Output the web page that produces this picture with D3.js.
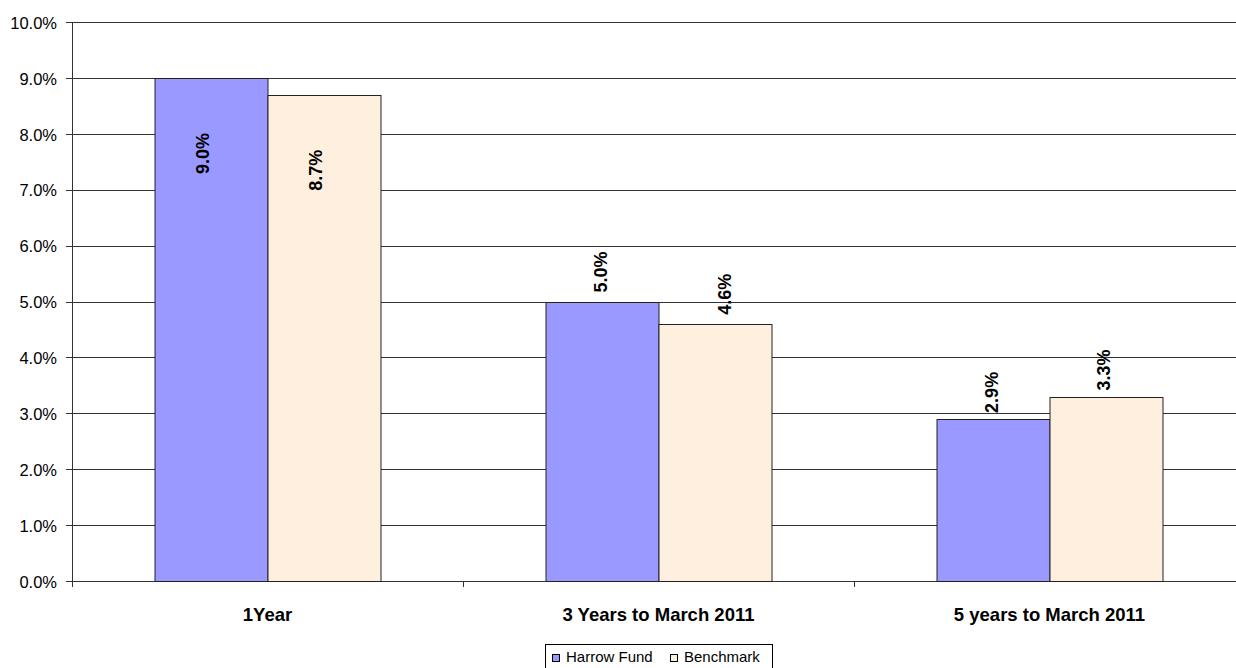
<!DOCTYPE html>
<html>
<head>
<meta charset="UTF-8">
<style>
  body { margin: 0; padding: 0; background: #fff; overflow: hidden; }
  svg { display: block; font-family: Arial, "Liberation Sans", sans-serif; }
</style>
</head>
<body>
<svg id="chart" width="1236" height="668"></svg>
<script src="https://d3js.org/d3.v7.min.js"></script>
<script>
// data
const categories = ["1Year", "3 Years to March 2011", "5 years to March 2011"];
const seriesNames = ["Harrow Fund", "Benchmark"];
const harrow = [9.0, 5.0, 2.9];
const benchmark = [8.7, 4.6, 3.3];
const yTicks = [0, 1, 2, 3, 4, 5, 6, 7, 8, 9, 10];

const colors = { "Harrow Fund": "#9999FF", "Benchmark": "#FFEFDF" };

const svg = d3.select("#chart");
const plotLeft = 72, plotTop = 22, plotBottom = 581;

const x = d3.scaleBand().domain(categories).range([plotLeft, plotLeft + 3 * 391]);
const x1 = d3.scaleBand().domain(seriesNames).range([0, 226]);
const y = d3.scaleLinear().domain([0, 10]).range([plotBottom, plotTop]);

// gridlines
svg.append("g").selectAll("line")
  .data(yTicks)
  .enter().append("line")
  .attr("x1", plotLeft - 6).attr("x2", 1236)
  .attr("y1", d => Math.round(y(d)) + 0.5).attr("y2", d => Math.round(y(d)) + 0.5)
  .attr("stroke", "#333").attr("stroke-width", 1);

// y tick labels
svg.append("g").selectAll("text")
  .data(yTicks)
  .enter().append("text")
  .attr("x", 57).attr("y", d => y(d) + 1)
  .attr("dy", "0.35em")
  .attr("text-anchor", "end")
  .attr("font-size", 16.5)
  .text(d => d.toFixed(1) + "%");

// bars
const rows = categories.map((c, i) => ({ cat: c, vals: [harrow[i], benchmark[i]] }));
const groups = svg.append("g").selectAll("g")
  .data(rows)
  .enter().append("g")
  .attr("transform", d => `translate(${x(d.cat) + (x.bandwidth() - 226) / 2},0)`);

groups.selectAll("rect")
  .data(d => d.vals.map((v, j) => ({ name: seriesNames[j], v })))
  .enter().append("rect")
  .attr("x", d => x1(d.name) + 0.5)
  .attr("y", d => Math.round(y(d.v)) + 0.5)
  .attr("width", x1.bandwidth())
  .attr("height", d => plotBottom - Math.round(y(d.v)))
  .attr("fill", d => colors[d.name])
  .attr("stroke", "#222").attr("stroke-width", 1);

// value labels (the tallest ones sit inside the bar); small sideways nudges as placed in the original
const labelNudge = [[-8, -8], [-1, 10], [-1, -2]];
groups.selectAll("text")
  .data((d, i) => d.vals.map((v, j) => ({ name: seriesNames[j], v, dx: labelNudge[i][j] })))
  .enter().append("text")
  .attr("transform", d => {
    const cx = x1(d.name) + x1.bandwidth() / 2 + d.dx;
    const by = d.v > 8 ? y(d.v) + 96 : y(d.v) - (d.v > 4 ? 9 : 6);
    return `translate(${cx},${by}) rotate(-90)`;
  })
  .attr("dy", "0.35em")
  .attr("font-size", 18)
  .attr("font-weight", "bold")
  .text(d => d.v.toFixed(1) + "%");

// axes lines
svg.append("line")
  .attr("x1", plotLeft + 0.5).attr("x2", plotLeft + 0.5)
  .attr("y1", plotTop).attr("y2", plotBottom + 6)
  .attr("stroke", "#333");
svg.append("g").selectAll("line")
  .data(categories.slice(1))
  .enter().append("line")
  .attr("x1", d => x(d) + 0.5).attr("x2", d => x(d) + 0.5)
  .attr("y1", plotBottom).attr("y2", plotBottom + 6)
  .attr("stroke", "#333");

// category labels
svg.append("g").selectAll("text")
  .data(categories)
  .enter().append("text")
  .attr("x", d => x(d) + x.bandwidth() / 2)
  .attr("y", 621)
  .attr("text-anchor", "middle")
  .attr("font-size", 18.5)
  .attr("font-weight", "bold")
  .text(d => d);

// legend
const lg = svg.append("g");
lg.append("rect")
  .attr("x", 545.5).attr("y", 644.5)
  .attr("width", 227).attr("height", 30)
  .attr("fill", "#fff").attr("stroke", "#000");
const legX = [552, 670];
seriesNames.forEach((n, i) => {
  lg.append("rect")
    .attr("x", legX[i] + 0.5).attr("y", 654.5)
    .attr("width", 7).attr("height", 7)
    .attr("fill", colors[n]).attr("stroke", "#000");
  lg.append("text")
    .attr("x", legX[i] + 14).attr("y", 662)
    .attr("font-size", 15)
    .text(n);
});
</script>
</body>
</html>
